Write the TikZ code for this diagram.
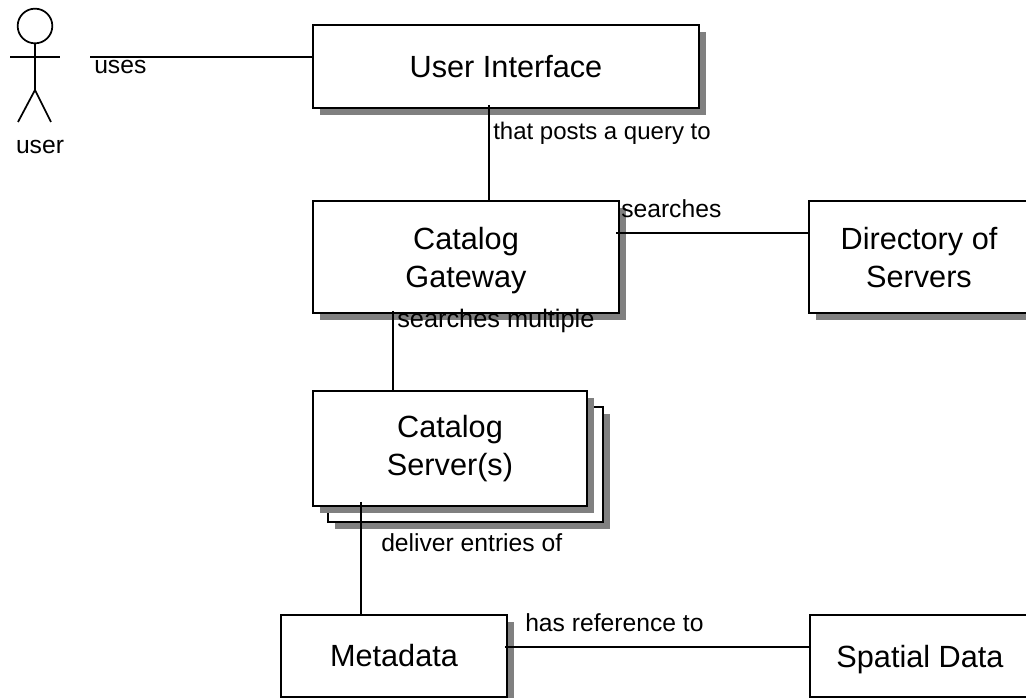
\documentclass[tikz,border=0pt]{standalone}
\usepackage{fontspec}
\setmainfont{Liberation Sans}
\usetikzlibrary{shadows}
\begin{document}
\begin{tikzpicture}[x=0.75pt,y=-0.75pt]
        \tikzstyle{entity}=[rectangle,draw=black,fill=white,line width=1.4pt,anchor=north west,inner sep=0pt,outer sep=0pt,align=center,font=\fontsize{23}{28.5}\selectfont,drop shadow={shadow xshift=5pt,shadow yshift=-5pt,fill=black!50,opacity=1}]
        \tikzstyle{edge}=[draw=black,line width=1.3pt]
        \tikzstyle{caption}=[inner sep=0pt,anchor=base west,font=\fontsize{18.5}{22}\selectfont]
        \useasboundingbox (0,0) rectangle (1026,698);

        % actor
        \node [circle,draw=black,line width=1.3pt,minimum size=26pt,inner sep=0pt] (head) at (35,26) {};
        \coordinate (neck) at (35,90);
        \coordinate (armleft) at (10,57);
        \coordinate (armright) at (60,57);
        \coordinate (footleft) at (18,122);
        \coordinate (footright) at (51,122);
        \path[edge] (head.south) -- (neck);
        \path[edge] (armleft) -- (armright);
        \path[edge] (footleft) -- (neck) -- (footright);
        \node [caption,anchor=base] (userlabel) at (40,154) {user};

        % boxes
        \node [entity,minimum width=289.5pt,minimum height=62.25pt] (ui) at (313,25) {User Interface};
        \node [entity,text depth=0pt,minimum width=229.5pt,minimum height=84pt] (gateway) at (313,201) {Catalog\\Gateway};
        \node [entity,text depth=-2pt,minimum width=165pt,minimum height=84pt] (directory) at (809,201) {Directory of\\Servers};
        \node [entity,minimum width=206.25pt,minimum height=86.25pt] (serverback) at (328,407) {};
        \node [entity,minimum width=205.5pt,minimum height=86.25pt] (server) at (313,391) {Catalog\\Server(s)};
        \node [entity,minimum width=169.5pt,minimum height=61.5pt] (metadata) at (281,615) {Metadata};
        \node [entity,text depth=0pt,minimum width=165pt,minimum height=61.5pt] (spatial) at (810,615) {Spatial Data};

        % connectors
        \coordinate (usesend) at (90,57);
        \coordinate (postend) at (489,105);
        \coordinate (searchend) at (616,233);
        \coordinate (multiend) at (393,311);
        \coordinate (deliverend) at (361,502);
        \coordinate (refend) at (505,647);
        \path[edge] (usesend) -- (usesend -| ui.west);
        \path[edge] (postend) -- (postend |- gateway.north);
        \path[edge] (searchend) -- (searchend -| directory.west);
        \path[edge] (multiend) -- (multiend |- server.north);
        \path[edge] (deliverend) -- (deliverend |- metadata.north);
        \path[edge] (refend) -- (refend -| spatial.west);

        % labels
        \node [caption] (useslabel) at (94,74) {uses};
        \node [caption,font=\fontsize{18}{22}\selectfont] (postlabel) at (493,140) {that posts a query to};
        \node [caption] (searchlabel) at (621,218) {searches};
        \node [caption,font=\fontsize{19}{22}\selectfont] (multilabel) at (397,328) {searches multiple};
        \node [caption] (deliverlabel) at (381,552) {deliver entries of};
        \node [caption] (reflabel) at (525,632) {has reference to};
\end{tikzpicture}
\end{document}
